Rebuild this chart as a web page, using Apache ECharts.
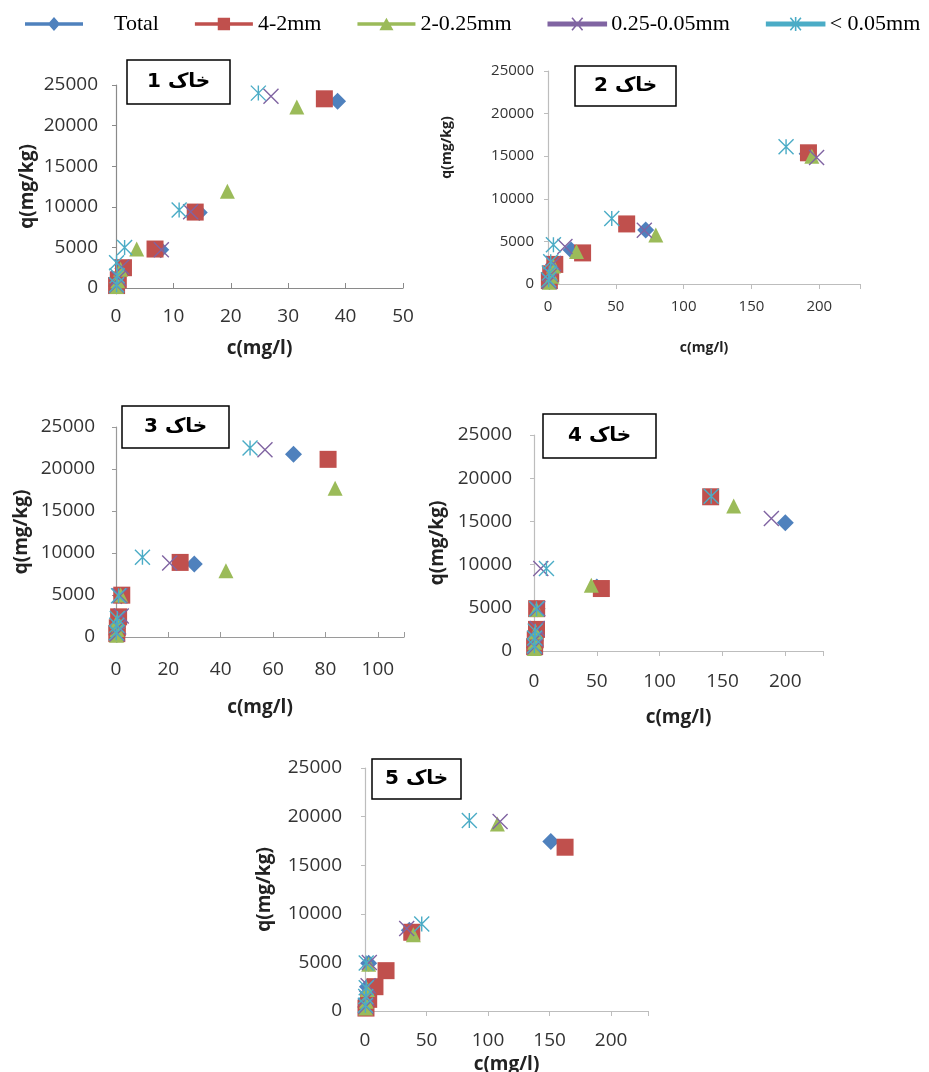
<!DOCTYPE html>
<html>
<head>
<meta charset="utf-8">
<script src="https://cdn.jsdelivr.net/npm/echarts@6/dist/echarts.min.js"></script>
<style>
html,body{margin:0;padding:0;background:#fff;}
#chart{width:929px;height:1072px;}
</style>
</head>
<body>
<div id="chart"></div>
<script>
// series (particle size fractions)
var seriesNames = ["Total", "4-2mm", "2-0.25mm", "0.25-0.05mm", "< 0.05mm"];
var seriesColors = ["#4F81BD", "#C0504D", "#9BBB59", "#8064A2", "#4BACC6"];

// each soil: one list of [c, q] points per fraction, same order as seriesNames
var soil1 = [
	[[0.1,250],[0.3,1100],[1.2,2400],[7.8,4700],[14.5,9300],[38.6,23000]],
	[[0.1,300],[0.4,1000],[1.3,2500],[6.8,4800],[13.8,9350],[36.3,23300]],
	[[0.1,200],[0.3,900],[0.8,2300],[3.6,4800],[19.4,11900],[31.5,22300]],
	[[0.1,300],[0.4,1200],[1.0,2600],[7.9,4700],[13.0,9400],[27.0,23600]],
	[[0.1,400],[0.2,1500],[0.1,3100],[1.5,5000],[11.0,9600],[24.8,24000]]
];
var soil2 = [
	[[1,300],[2,1000],[4,2300],[17,4000],[72,6350],[191,15300]],
	[[1,400],[2,1200],[5,2300],[25.5,3650],[58,7050],[192,15400]],
	[[1,200],[3,900],[4,2100],[21,3800],[79.5,5750],[194.5,15000]],
	[[1,300],[2,1100],[4,2400],[12.5,4400],[71,6300],[198,14850]],
	[[0.5,500],[1,1300],[2,2600],[4,4600],[47,7700],[175.5,16100]]
];
var soil3 = [
	[[0.3,300],[0.5,1000],[1,2200],[2,4900],[29.9,8700],[67.8,21750]],
	[[0.3,400],[0.5,1100],[1,2400],[2.2,4980],[24.5,8880],[81,21150]],
	[[0.2,200],[0.4,900],[0.5,1900],[1.8,5000],[42,7900],[83.7,17700]],
	[[0.5,400],[1,1200],[2,2500],[1.5,4900],[20.5,8800],[56.9,22300]],
	[[0.1,500],[0.3,1400],[0.5,2200],[1,4900],[10.1,9480],[51.2,22500]]
];
var soil4 = [
	[[0.5,400],[1,1200],[2,2400],[2.5,4900],[50,7400],[200,14850]],
	[[0.5,500],[1,1300],[2,2500],[2.1,4900],[53.6,7230],[140.6,17850]],
	[[0.3,300],[0.6,1000],[1.5,2200],[2,4800],[45.6,7600],[158.9,16770]],
	[[0.8,500],[1.5,1400],[2.5,2600],[3,4900],[5.4,9550],[188.9,15340]],
	[[0.3,600],[0.5,1500],[1,2300],[2,4900],[9.9,9550],[141,17900]]
];
var soil5 = [
	[[0.5,400],[1,1200],[2,2500],[3,4900],[36,8300],[151,17450]],
	[[0.8,300],[3,1200],[8.1,2500],[17.1,4150],[38,8100],[162.6,16850]],
	[[0.5,300],[1,1000],[2,2200],[3,4800],[39.3,7850],[107.6,19250]],
	[[0.8,500],[1.5,1300],[2.5,2600],[3.5,5000],[33.9,8500],[109.8,19500]],
	[[0.3,600],[0.6,1500],[1,2400],[1,4950],[46.1,8950],[84.8,19600]]
];
var soils = [soil1, soil2, soil3, soil4, soil5];
var soilTitles = ["خاک 1", "خاک 2", "خاک 3", "خاک 4", "خاک 5"];

// axis ranges
var xMax = [50, 230, 110, 230, 230];
var xStep = [10, 50, 20, 50, 50];
var yMax = 25000;
var yStep = 5000;

var markers = [
	"diamond",
	"rect",
	"triangle",
	"path://M0 0L10 10M10 0L0 10",
	"path://M0 0L10 10M10 0L0 10M5 0L5 10"
];
var legendIcons = [
	"path://M0 6L66 6L66 10L0 10ZM33 0L40 8L33 16L26 8Z",
	"path://M0 6L66 6L66 10L0 10ZM26 1L40 1L40 15L26 15Z",
	"path://M0 6L66 6L66 10L0 10ZM33 1L41 15L25 15Z",
	"path://M0 6L66 6L66 10L0 10ZM27 1L39 15M39 1L27 15",
	"path://M0 6L66 6L66 10L0 10ZM27 1L39 15M39 1L27 15M33 0L33 16"
];

// panel layout
var panels = [
	{left:116, top:85, width:287, height:203, font:19, nameFont:19, axisColor:"#8a8a8a", yGap:79, xGap:51, yMargin:18, xMargin:19, tickIn:true, yNamePad:0, title:{left:127, top:60, pad:[12,20]}},
	{left:548, top:71, width:312, height:213, font:15, nameFont:14, axisColor:"#bdbdbd", yGap:94, xGap:57, yMargin:14, xMargin:15, tickIn:false, yNamePad:60, title:{left:575, top:66, pad:[10,19]}},
	{left:116, top:427, width:288, height:210, font:19, nameFont:19, axisColor:"#9a9a9a", yGap:85, xGap:61, yMargin:21, xMargin:23, tickIn:true, yNamePad:0, title:{left:122, top:406, pad:[11,22]}},
	{left:534, top:435, width:289, height:216, font:19, nameFont:19, axisColor:"#bdbdbd", yGap:87, xGap:57, yMargin:22, xMargin:21, tickIn:false, yNamePad:0, title:{left:543, top:414, pad:[12,25]}},
	{left:365, top:768, width:283, height:243, font:19, nameFont:19, axisColor:"#bdbdbd", yGap:91, xGap:44, yMargin:23, xMargin:20, tickIn:false, yNamePad:0, title:{left:372, top:759, pad:[10,13]}}
];

var labelFont = "'Open Sans', 'Liberation Sans', sans-serif";

var option = {
	backgroundColor:"#fff",
	animation:false,
	title:[],
	legend:{
		top:13,
		left:25,
		right:0,
		padding:0,
		itemWidth:58,
		itemHeight:16,
		itemGap:36,
		textStyle:{fontFamily:"'Liberation Serif', serif", fontSize:22, color:"#000"},
		data:[]
	},
	grid:[],
	xAxis:[],
	yAxis:[],
	series:[]
};

for(var k=0;k<seriesNames.length;k++){
	option.legend.data.push({
		name:seriesNames[k],
		icon:legendIcons[k],
		itemStyle:{color:seriesColors[k], borderColor:seriesColors[k], borderWidth:k>=3?1.6:0},
		textStyle:k==0?{padding:[0,0,0,26]}:{}
	});
}

panels.forEach(function(p, i){
	option.grid.push({
		left:p.left, top:p.top, width:p.width, height:p.height,
		containLabel:false, outerBoundsMode:"none"
	});
	option.title.push({
		text:soilTitles[i],
		left:p.title.left,
		top:p.title.top,
		padding:p.title.pad,
		borderColor:"#000",
		borderWidth:1.5,
		backgroundColor:"#fff",
		textStyle:{fontFamily:"'DejaVu Sans', sans-serif", fontWeight:"bold", fontSize:20, color:"#000"}
	});
	var step = xStep[i];
	option.xAxis.push({
		gridIndex:i, type:"value", min:0, max:xMax[i], interval:step,
		name:"c(mg/l)", nameLocation:"middle", nameGap:p.xGap,
		nameTextStyle:{fontFamily:labelFont, fontWeight:"bold", fontSize:p.nameFont, color:"#222"},
		splitLine:{show:false},
		axisLine:{onZero:false, lineStyle:{color:p.axisColor, width:1.2}},
		axisTick:{inside:p.tickIn, length:5, lineStyle:{color:p.axisColor}},
		axisLabel:{
			margin:p.xMargin, fontFamily:labelFont, fontSize:p.font, color:"#333",
			formatter:function(v){ return v % step === 0 ? String(v) : ""; }
		}
	});
	option.yAxis.push({
		gridIndex:i, type:"value", min:0, max:yMax, interval:yStep,
		name:"q(mg/kg)", nameLocation:"middle", nameGap:p.yGap, nameRotate:90,
		nameTextStyle:{fontFamily:labelFont, fontWeight:"bold", fontSize:p.nameFont, color:"#222", padding:[0,0,0,p.yNamePad]},
		splitLine:{show:false},
		axisLine:{show:true, onZero:false, lineStyle:{color:p.axisColor, width:1.2}},
		axisTick:{show:true, length:4, lineStyle:{color:p.axisColor}},
		axisLabel:{
			margin:p.yMargin, fontFamily:labelFont, fontSize:p.font, color:"#333",
			formatter:function(v){ return String(v); }
		}
	});
	soils[i].forEach(function(pts, k){
		var lined = k >= 3;
		option.series.push({
			name:seriesNames[k],
			type:"scatter",
			xAxisIndex:i,
			yAxisIndex:i,
			symbol:markers[k],
			symbolSize:k<=1?17:15,
			itemStyle:lined ? {color:seriesColors[k], borderColor:seriesColors[k], borderWidth:1.4, opacity:1}
			                : {color:seriesColors[k], opacity:1},
			data:pts
		});
	});
});

var chart = echarts.init(document.getElementById("chart"));
chart.setOption(option);
</script>
</body>
</html>
